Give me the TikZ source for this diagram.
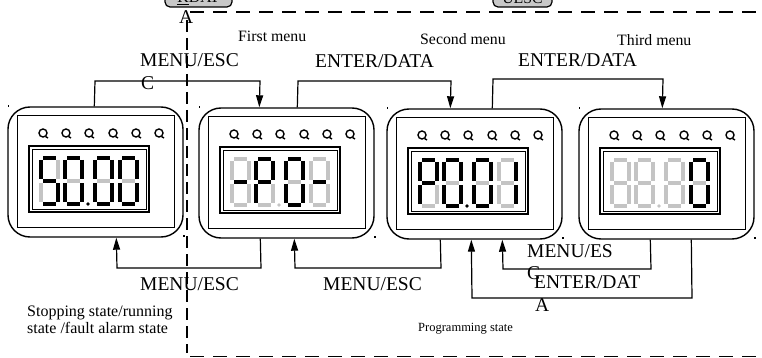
\documentclass[tikz,border=0pt]{standalone}
\usepackage{fontspec}
\setmainfont{Liberation Serif}
\usetikzlibrary{arrows.meta}
\definecolor{segoff}{RGB}{196,196,196}
\definecolor{segon}{RGB}{0,0,0}
\definecolor{btngray}{RGB}{200,200,200}
% seven segment digit: x y a b c d e f g
\newcommand\sevdig[9]{%
 \draw[seg,#3] (#1+2,#2) -- (#1+15,#2);
 \draw[seg,#4] (#1+17,#2+2) -- (#1+17,#2+21);
 \draw[seg,#5] (#1+17,#2+25) -- (#1+17,#2+44);
 \draw[seg,#6] (#1+2,#2+46) -- (#1+15,#2+46);
 \draw[seg,#7] (#1,#2+25) -- (#1,#2+44);
 \draw[seg,#8] (#1,#2+2) -- (#1,#2+21);
 \draw[seg,#9] (#1+2,#2+23) -- (#1+15,#2+23);
}
\newcommand\panelbody[2]{%
 \draw[line width=1pt] (#1+9,#2+9) rectangle (#1+166,#2+120);
 \draw[line width=1.8pt] (#1+21,#2+39) rectangle (#1+141,#2+105);
 \draw[line width=0.8pt] (#1+24,#2+42) rectangle (#1+138,#2+102);
 \foreach \cx in {35,58,81,105,128,151} {%
   \draw[line width=1.4pt] (#1+\cx,#2+26) circle (4pt);
   \draw[line width=1.4pt] (#1+\cx+2.5,#2+29.5) -- (#1+\cx+5,#2+31);}
 \fill (#1-0.5,#2-1.5) rectangle ++(1.6,1.6);
 \fill (#1+175,#2+128) rectangle ++(1.6,1.6);
}
\tikzset{
 panel/.style={draw, line width=1.4pt, rounded corners=22pt, minimum width=175pt, minimum height=130pt, inner sep=0pt},
 seg/.style={line width=3.3pt, line cap=butt},
 conn/.style={line width=1.2pt},
 arr/.style={-{Triangle[length=12pt,width=7pt]}},
 lbl/.style={font=\fontsize{19.5}{22}\selectfont, inner sep=0pt, anchor=base west},
 menulbl/.style={font=\fontsize{15.8}{18}\selectfont, inner sep=0pt, anchor=base west},
 statelbl/.style={font=\fontsize{16}{17}\selectfont, inner sep=0pt, anchor=base west},
 proglbl/.style={font=\fontsize{12.5}{14}\selectfont, inner sep=0pt, anchor=base west},
 dashline/.style={line width=1.6pt, dash pattern=on 14pt off 9pt},
 vdashline/.style={line width=1.6pt, dash pattern=on 12pt off 6pt},
}
\begin{document}
\begin{tikzpicture}[x=1pt,y=-1pt]
\useasboundingbox (0,0) rectangle (762,358);
\clip (0,0) rectangle (762,358);
\fill[white] (0,0) rectangle (762,358);

% partial buttons at top
\draw[line width=1.2pt, fill=btngray, rounded corners=5pt] (165,-12) rectangle (232,7);
\node[menulbl, anchor=base] (btnA) at (198.5,3) {\underline{K}DAT};
\draw[line width=1.2pt, fill=btngray, rounded corners=5pt] (493,-12) rectangle (552,7);
\node[menulbl, anchor=base] (btnB) at (522.5,4) {UESC};

% panels
\node[panel] (p1) at (8+87.5,107+65) {};
\node[panel] (p2) at (199+87.5,108+65) {};
\node[panel] (p3) at (387+87.5,109+65) {};
\node[panel] (p4) at (579+87.5,109+65) {};
\panelbody{8}{107}
\panelbody{199}{108}
\panelbody{387}{109}
\panelbody{579}{109}

% display 1: 50.00
\sevdig{41}{158}{segon}{segoff}{segon}{segon}{segoff}{segon}{segon}
\sevdig{65}{158}{segon}{segon}{segon}{segon}{segon}{segon}{segoff}
\fill[segon] (88,204) circle (1.8pt);
\sevdig{95}{158}{segon}{segon}{segon}{segon}{segon}{segon}{segoff}
\sevdig{120}{158}{segon}{segon}{segon}{segon}{segon}{segon}{segoff}
% display 2: -P.0-
\sevdig{232}{159}{segoff}{segoff}{segoff}{segoff}{segoff}{segoff}{segon}
\sevdig{256}{159}{segon}{segon}{segoff}{segoff}{segon}{segon}{segon}
\fill[segoff] (279,205) circle (1.8pt);
\sevdig{286}{159}{segon}{segon}{segon}{segon}{segon}{segon}{segoff}
\sevdig{311}{159}{segoff}{segoff}{segoff}{segoff}{segoff}{segoff}{segon}
% display 3: P0.01
\sevdig{420}{160}{segon}{segon}{segoff}{segoff}{segon}{segon}{segon}
\sevdig{444}{160}{segon}{segon}{segon}{segon}{segon}{segon}{segoff}
\fill[segon] (467,206) circle (1.8pt);
\sevdig{474}{160}{segon}{segon}{segon}{segon}{segon}{segon}{segoff}
\sevdig{499}{160}{segoff}{segon}{segon}{segoff}{segoff}{segoff}{segoff}
% display 4: 88.80
\sevdig{612}{160}{segoff}{segoff}{segoff}{segoff}{segoff}{segoff}{segoff}
\sevdig{636}{160}{segoff}{segoff}{segoff}{segoff}{segoff}{segoff}{segoff}
\fill[segoff] (659,206) circle (1.8pt);
\sevdig{666}{160}{segoff}{segoff}{segoff}{segoff}{segoff}{segoff}{segoff}
\sevdig{691}{160}{segon}{segon}{segon}{segon}{segon}{segon}{segoff}

% top connectors
\coordinate (t1a) at (95,81);  \coordinate (t1b) at (260,81);
\coordinate (t2a) at (298,81); \coordinate (t2b) at (451,81);
\coordinate (t3a) at (493,79); \coordinate (t3b) at (663,79);
\draw[conn,arr] ([xshift=87pt]p1.north west) -- (t1a) -- (t1b) -- ([xshift=61pt]p2.north west);
\draw[conn,arr] ([xshift=99pt]p2.north west) -- (t2a) -- (t2b) -- ([xshift=64pt]p3.north west);
\draw[conn,arr] ([xshift=106pt]p3.north west) -- (t3a) -- (t3b) -- ([xshift=84pt]p4.north west);

% bottom connectors
\coordinate (b1a) at (261,268); \coordinate (b1b) at (117,268);
\coordinate (b2a) at (441,268); \coordinate (b2b) at (295,268);
\coordinate (b3a) at (651,269); \coordinate (b3b) at (503,269);
\coordinate (b4a) at (692,298); \coordinate (b4b) at (472,298);
\draw[conn,arr] ([xshift=62pt]p2.south west) -- (b1a) -- (b1b) -- ([xshift=109pt]p1.south west);
\draw[conn,arr] ([xshift=54pt]p3.south west) -- (b2a) -- (b2b) -- ([xshift=96pt]p2.south west);
\draw[conn,arr] ([xshift=72pt]p4.south west) -- (b3a) -- (b3b) -- ([xshift=116pt]p3.south west);
\draw[conn,arr] ([xshift=113pt]p4.south west) -- (b4a) -- (b4b) -- ([xshift=85pt]p3.south west);

% labels
\node[menulbl] (m1) at (238,42) {First menu};
\node[menulbl] (m2) at (420,45) {Second menu};
\node[menulbl] (m3) at (617,46) {Third menu};
\node[lbl] (l1) at (140,67) {MENU/ESC};
\node[lbl] (l1c) at (141,90) {C};
\node[lbl] (l2) at (315,68) {ENTER/DATA};
\node[lbl] (l3) at (518,67) {ENTER/DATA};
\node[lbl] (l4) at (140,290) {MENU/ESC};
\node[lbl] (l5) at (323,290) {MENU/ESC};
\node[lbl] (l6) at (527,257) {MENU/ES};
\node[lbl] (l6c) at (527,279) {C};
\node[lbl] (l7) at (534,288) {ENTER/DAT};
\node[lbl] (l7a) at (535,311) {A};
\node[lbl] (btnAa) at (179,24) {A};
\node[statelbl] (s1) at (27,316) {Stopping state/running};
\node[statelbl] (s1b) at (27,333) {state /fault alarm state};
\node[proglbl] (s2) at (418,331) {Programming state};

% dashed programming region
\draw[dashline] (190,12) -- (762,12);
\draw[vdashline] (187,20) -- (187,353);
\draw[dashline] (190,356.5) -- (762,356.5);
\end{tikzpicture}
\end{document}
